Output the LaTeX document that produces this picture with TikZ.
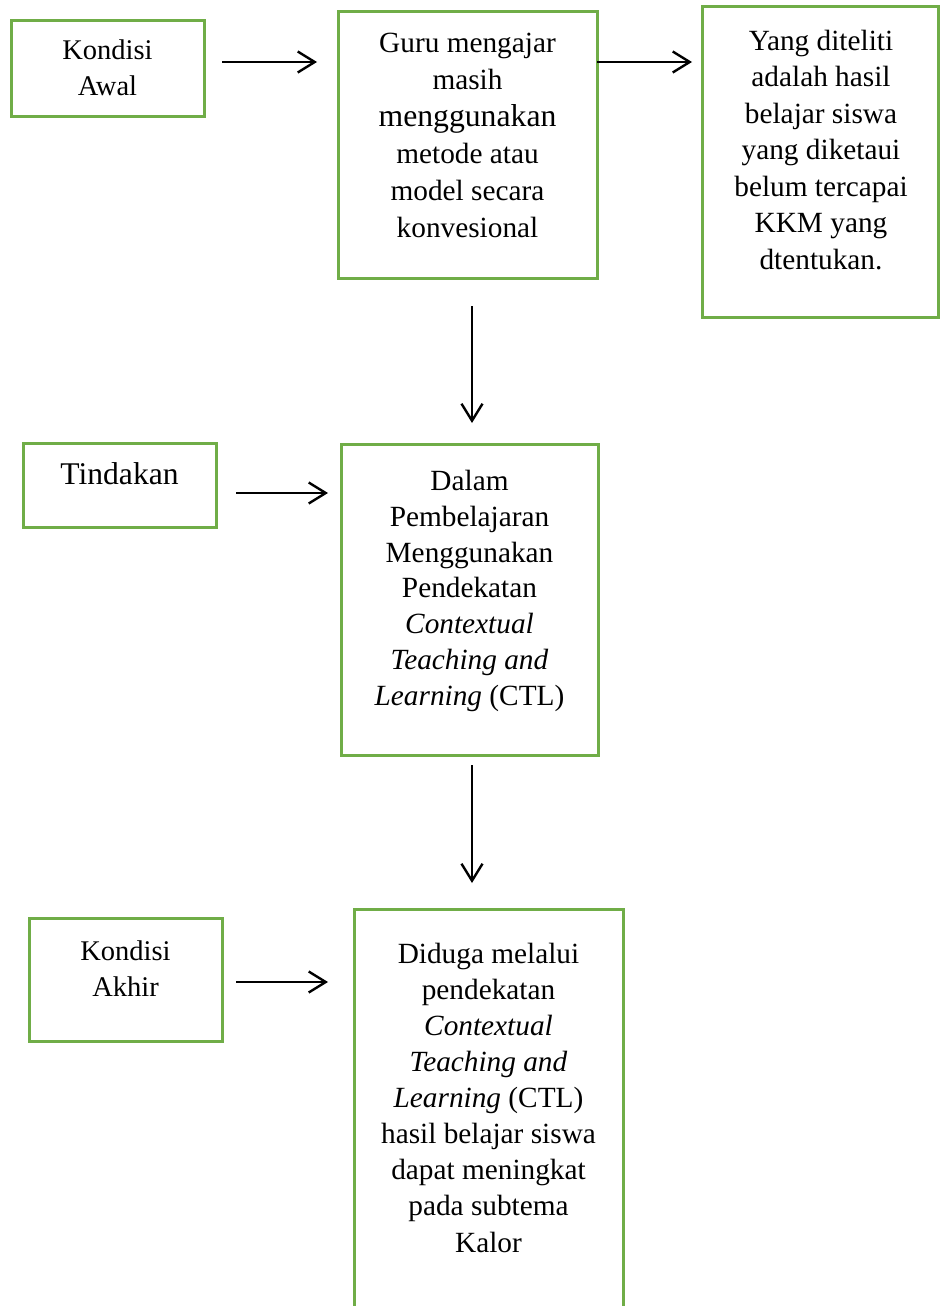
\documentclass[tikz,border=0pt]{standalone}
\usepackage{fontspec}
\setmainfont{Liberation Serif}
\usetikzlibrary{arrows.meta}
\definecolor{boxgreen}{HTML}{70AD47}
\begin{document}
\begin{tikzpicture}[x=1pt,y=-1pt,
  box/.style={draw=boxgreen, line width=3pt, rectangle, inner sep=0pt, outer sep=0pt, anchor=north west},
  txt/.style={align=center, inner sep=0pt, anchor=north, font=\fontsize{29.3}{36.2}\selectfont},
  arr/.style={draw=black, line width=2.4pt, -{Straight Barb[length=17pt,width=21pt,line width=2.4pt]}}]
\useasboundingbox (0,0) rectangle (940,1306);
\clip (0,0) rectangle (940,1306);

% boxes
\node[box, minimum width=193pt, minimum height=95pt] (awal) at (11,21) {};
\node[box, minimum width=259pt, minimum height=266pt] (guru) at (338,12) {};
\node[box, minimum width=236pt, minimum height=310pt] (yang) at (702,7) {};
\node[box, minimum width=193pt, minimum height=84pt] (tind) at (23,443) {};
\node[box, minimum width=257pt, minimum height=311pt] (dalam) at (341,444) {};
\node[box, minimum width=193pt, minimum height=123pt] (akhir) at (29,918) {};
\node[box, minimum width=269pt, minimum height=430pt] (diduga) at (354,909) {};

% texts
\node[txt, font=\fontsize{28.5}{36}\selectfont] (tawal) at (107.5,33) {\rule{0pt}{26pt}Kondisi\\Awal};
\node[txt, font=\fontsize{29.3}{37}\selectfont] (tguru) at (467.5,26) {\rule{0pt}{26pt}Guru mengajar\\masih\\{\fontsize{31.7}{37}\selectfont menggunakan}\\metode atau\\model secara\\konvesional};
\node[txt, font=\fontsize{29.3}{36.5}\selectfont] (tyang) at (821,24) {\rule{0pt}{26pt}Yang diteliti\\adalah hasil\\belajar siswa\\yang diketaui\\belum tercapai\\KKM yang\\dtentukan.};
\node[txt, font=\fontsize{31.6}{36}\selectfont] (ttind) at (119.5,458) {\rule{0pt}{26pt}Tindakan};
\node[txt, font=\fontsize{29.3}{35.9}\selectfont] (tdalam) at (469.5,464) {\rule{0pt}{26pt}Dalam\\Pembelajaran\\Menggunakan\\Pendekatan\\\textit{Contextual}\\\textit{Teaching and}\\\textit{Learning} (CTL)};
\node[txt, font=\fontsize{28.5}{36}\selectfont] (takhir) at (125.5,934) {\rule{0pt}{26pt}Kondisi\\Akhir};
\node[txt, font=\fontsize{29.3}{36.1}\selectfont] (tdiduga) at (488.5,937) {\rule{0pt}{26pt}Diduga melalui\\pendekatan\\\textit{Contextual}\\\textit{Teaching and}\\\textit{Learning} (CTL)\\hasil belajar siswa\\dapat meningkat\\pada subtema\\Kalor};

% connectors
\draw[arr, shorten <=18pt, shorten >=21pt] (awal.east |- 0,62) -- (guru.west |- 0,62);
\draw[arr, shorten <=0pt, shorten >=10pt] (guru.east |- 0,62) -- (yang.west |- 0,62);
\draw[arr, shorten <=28pt, shorten >=21pt] (guru.south -| 472,0) -- (dalam.north -| 472,0);
\draw[arr, shorten <=20pt, shorten >=13pt] (tind.east |- 0,493) -- (dalam.west |- 0,493);
\draw[arr, shorten <=10pt, shorten >=26pt] (dalam.south -| 472,0) -- (diduga.north -| 472,0);
\draw[arr, shorten <=14pt, shorten >=26pt] (akhir.east |- 0,982) -- (diduga.west |- 0,982);
\end{tikzpicture}
\end{document}
